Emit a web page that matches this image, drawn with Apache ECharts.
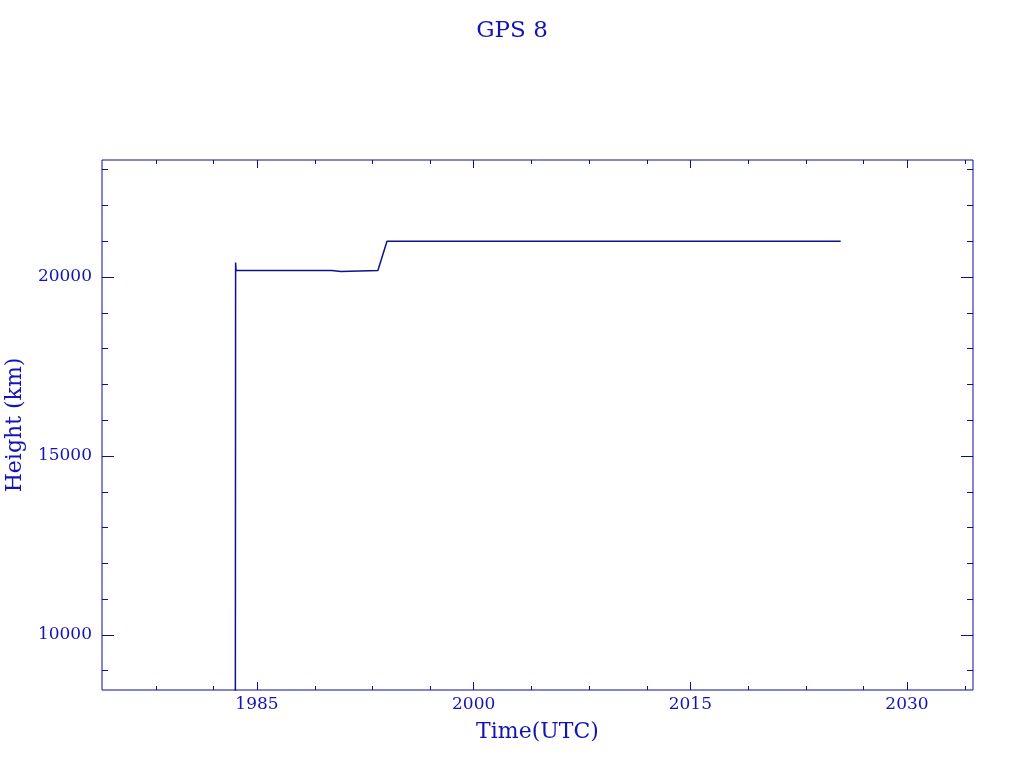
<!DOCTYPE html>
<html>
<head>
<meta charset="utf-8">
<script src="https://cdn.jsdelivr.net/npm/echarts@6/dist/echarts.min.js"></script>
<style>html,body{margin:0;padding:0;background:#fff}#c{width:1024px;height:768px}</style>
</head>
<body>
<div id="c"></div>
<script>
// Data (decimal year, height km)
const times   = [1983.50, 1983.52, 1983.55, 1990.19, 1990.20, 1990.80, 1990.81, 1993.37, 1994.00, 2025.41];
const heights = [7000,    20408,   20184,   20184,   20155,   20155,   20184,   20184,   21000,   21000];
// Ticks
const xMajor = [1985, 2000, 2015, 2030];
const xMinor = [1978, 1982, 1989, 1993, 1997, 2004, 2008, 2012, 2019, 2023, 2027, 2034];
const yMajor = [10000, 15000, 20000];
const yMinor = [9000, 11000, 12000, 13000, 14000, 16000, 17000, 18000, 19000, 21000, 22000, 23000];

const AX = '#0c0c96', TX = '#1414b4';
const FONT = 'DejaVu Serif';
const X_MIN = 1974.27, X_MAX = 2034.57, Y_MIN = 8462, Y_MAX = 23271;

function xa(pos, ticks, len, labels, extra) {
  return Object.assign({
    type: 'value', position: pos, min: X_MIN, max: X_MAX,
    axisLine: {show: false}, splitLine: {show: false},
    axisTick: {show: true, inside: true, length: len, customValues: ticks, lineStyle: {color: AX, width: 1}},
    axisLabel: labels ? {show: true, customValues: ticks, color: TX, fontFamily: FONT, fontSize: 17, margin: 6,
      formatter: v => String(v)} : {show: false}
  }, extra || {});
}
function ya(pos, ticks, len, labels, extra) {
  return Object.assign({
    type: 'value', position: pos, min: Y_MIN, max: Y_MAX,
    axisLine: {show: false}, splitLine: {show: false},
    axisTick: {show: true, inside: true, length: len, customValues: ticks, lineStyle: {color: AX, width: 1}},
    axisLabel: labels ? {show: true, customValues: ticks, color: TX, fontFamily: FONT, fontSize: 17, margin: 10,
      formatter: v => String(v)} : {show: false}
  }, extra || {});
}

const chart = echarts.init(document.getElementById('c'), null, {renderer: 'canvas'});
chart.setOption({
  animation: false,
  backgroundColor: '#ffffff',
  title: {text: 'GPS 8', left: 'center', top: 15,
    textStyle: {color: TX, fontFamily: FONT, fontSize: 23, fontWeight: 'normal'}},
  grid: {left: 102, right: 51, top: 160, bottom: 78, show: true, borderColor: AX, borderWidth: 1,
    backgroundColor: 'transparent', containLabel: false, outerBoundsMode: 'none'},
  xAxis: [
    xa('bottom', xMajor, 8, true, {name: 'Time(UTC)', nameLocation: 'middle', nameGap: 31,
      nameTextStyle: {color: TX, fontFamily: FONT, fontSize: 22}}),
    xa('bottom', xMinor, 4, false),
    xa('top', xMajor, 8, false),
    xa('top', xMinor, 4, false)
  ],
  yAxis: [
    ya('left', yMajor, 12, true, {name: 'Height (km)', nameLocation: 'middle', nameGap: 76,
      nameTextStyle: {color: TX, fontFamily: FONT, fontSize: 22}}),
    ya('left', yMinor, 6, false),
    ya('right', yMajor, 12, false),
    ya('right', yMinor, 6, false)
  ],
  series: [{
    type: 'line', xAxisIndex: 0, yAxisIndex: 0,
    data: times.map((t, i) => [t, heights[i]]),
    showSymbol: false, symbol: 'none', clip: true,
    lineStyle: {color: '#10108c', width: 1.5}
  }]
});
</script>
</body>
</html>
